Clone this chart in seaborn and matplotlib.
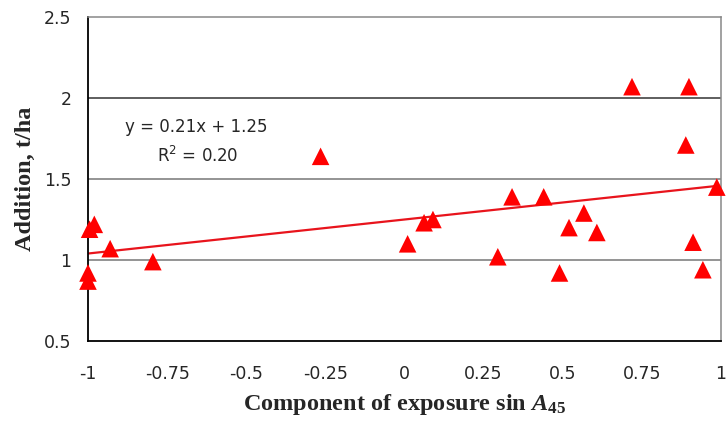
import numpy as np
import pandas as pd
import matplotlib.pyplot as plt
import seaborn as sns
from matplotlib.ticker import MultipleLocator

# exposure component (sin A45) and addition (t/ha)
exposure = [-1.0, -1.0, -0.995, -0.98, -0.93, -0.795, -0.265, 0.01, 0.062, 0.09,
            0.295, 0.34, 0.44, 0.49, 0.52, 0.567, 0.608, 0.719, 0.889, 0.899,
            0.912, 0.943, 0.987]
addition = [0.92, 0.87, 1.19, 1.22, 1.07, 0.99, 1.64, 1.10, 1.23, 1.25,
            1.02, 1.39, 1.39, 0.92, 1.20, 1.29, 1.17, 2.07, 1.71, 2.07,
            1.11, 0.94, 1.45]
slope = 0.21
intercept = 1.25
r_squared = 0.20
x_ticks = [-1, -0.75, -0.5, -0.25, 0, 0.25, 0.5, 0.75, 1]
x_tick_labels = ["-1", "-0.75", "-0.5", "-0.25", "0", "0.25", "0.5", "0.75", "1"]
y_ticks = [0.5, 1, 1.5, 2, 2.5]
y_tick_labels = ["0.5", "1", "1.5", "2", "2.5"]

df = pd.DataFrame({"exposure": exposure, "addition": addition})
fit_x = np.array([min(exposure), max(exposure)])
fit = pd.DataFrame({"exposure": fit_x, "addition": slope * fit_x + intercept})

sns.set_style("white")
plt.rcParams["font.family"] = ["DejaVu Sans"]
plt.rcParams["mathtext.fontset"] = "custom"
plt.rcParams["mathtext.rm"] = "Liberation Serif:bold"
plt.rcParams["mathtext.it"] = "Liberation Serif:italic:bold"
plt.rcParams["mathtext.bf"] = "Liberation Serif:bold"

fig = plt.figure(figsize=(7.26, 4.21), dpi=100)
ax = fig.add_axes([0.1212, 0.19, 0.8718, 0.7696])

# horizontal grid lines
for yv, col in [(1, "#777777"), (1.5, "#777777"), (2, "#333333")]:
    ax.axhline(yv, color=col, lw=1.1, zorder=0)

sns.lineplot(data=fit, x="exposure", y="addition", color="#e8141c", lw=1.6, ax=ax, zorder=2)
sns.scatterplot(data=df, x="exposure", y="addition", marker="^", color="#ff0000",
                s=160, edgecolor="none", ax=ax, zorder=3, clip_on=False)

ax.set_xlim(-1, 1)
ax.set_ylim(0.5, 2.5)
ax.set_xticks(x_ticks, x_tick_labels)
ax.set_yticks(y_ticks, y_tick_labels)
ax.xaxis.set_minor_locator(MultipleLocator(0.125))
ax.yaxis.set_minor_locator(MultipleLocator(0.1))
ax.tick_params(axis="both", which="both", direction="in", length=4, width=1,
               color="black", labelsize=12.5)
ax.tick_params(axis="x", which="both", pad=17)
ax.tick_params(axis="y", which="both", pad=12)

for side in ["left", "bottom"]:
    ax.spines[side].set_color("black")
    ax.spines[side].set_linewidth(1.3)
for side in ["top", "right"]:
    ax.spines[side].set_color("#888888")
    ax.spines[side].set_linewidth(1.1)

ax.set_xlabel(r"Component of exposure $\mathrm{sin}\ A_{\mathbf{45}}$",
              family="Liberation Serif", fontweight="bold", fontsize=17.5, labelpad=7)
ax.set_ylabel("Addition, t/ha", family="Liberation Serif", fontweight="bold",
              fontsize=17.5, labelpad=6)

ax.text(-0.659, 1.82, f"y = {slope:.2f}x + {intercept:.2f}", ha="center", va="center", fontsize=12)
ax.text(-0.655, 1.64, "R$\\mathregular{^2}$ = " + f"{r_squared:.2f}",
        ha="center", va="center", fontsize=12)

fig.savefig("out.png", dpi=100)
